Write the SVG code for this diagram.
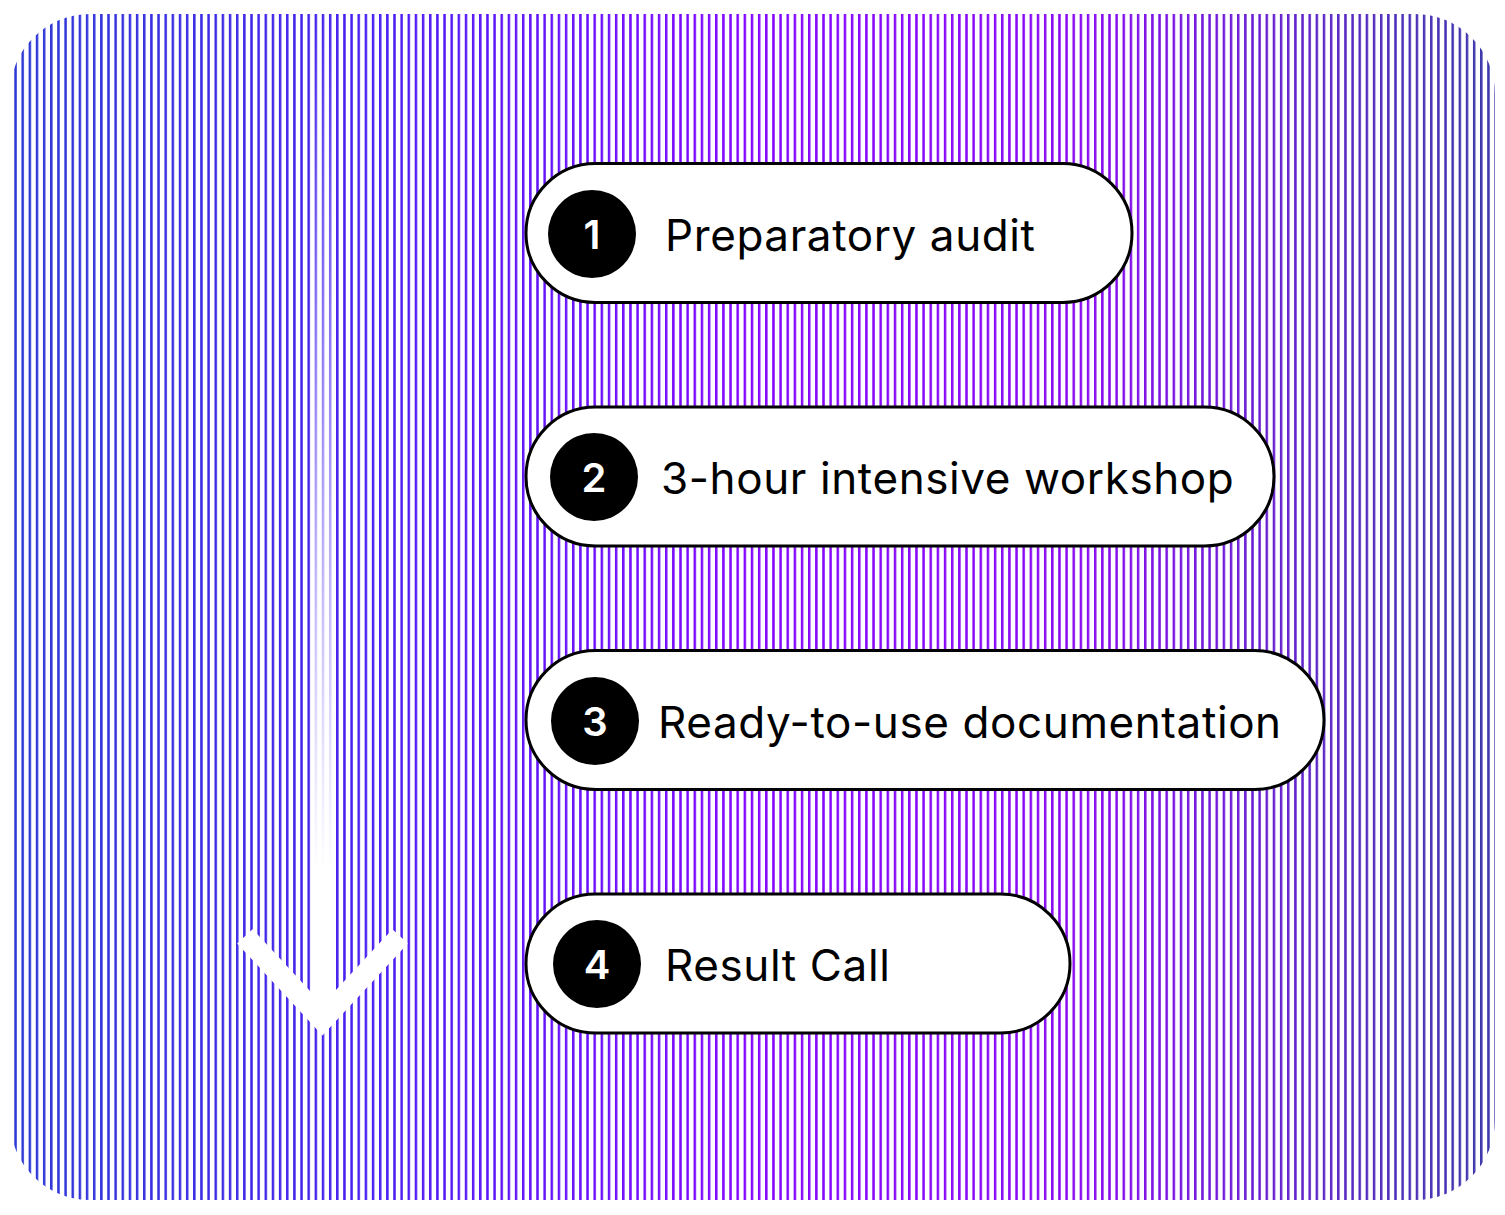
<svg xmlns="http://www.w3.org/2000/svg" width="1505" height="1215" viewBox="0 0 1505 1215">
  <defs>
    <linearGradient id="hue" x1="0" y1="0" x2="1505" y2="0" gradientUnits="userSpaceOnUse">
      <stop offset="0" stop-color="#2c3bd4"/>
      <stop offset="0.25" stop-color="#4a1ff2"/>
      <stop offset="0.5" stop-color="#8406ff"/>
      <stop offset="0.72" stop-color="#8a0cf0"/>
      <stop offset="1" stop-color="#3a3aa8"/>
    </linearGradient>
    <linearGradient id="fade" x1="0" y1="0" x2="0" y2="1">
      <stop offset="0" stop-color="#fff" stop-opacity="0"/>
      <stop offset="0.85" stop-color="#fff" stop-opacity="1"/>
      <stop offset="1" stop-color="#fff" stop-opacity="1"/>
    </linearGradient>
    <clipPath id="card">
      <rect x="10" y="14" width="1485" height="1186" rx="80" ry="80"/>
    </clipPath>
    <pattern id="stripesW" x="0" y="0" width="7.15" height="20" patternUnits="userSpaceOnUse">
      <rect x="0" y="0" width="2.5" height="20" fill="#fff"/>
    </pattern>
    <mask id="m">
      <rect x="0" y="0" width="1505" height="1215" fill="#000"/>
      <rect x="0" y="0" width="1505" height="1215" fill="url(#stripesW)"/>
    </mask>
  </defs>
  <style>
    .pill { fill: #fff; stroke: #000; stroke-width: 3; }
    .dot { fill: #000; }
    .num { font-family: Inter, "Liberation Sans", sans-serif; font-size: 40px; font-weight: 600; fill: #fff; text-anchor: middle; }
    .label { font-family: Inter, "Liberation Sans", sans-serif; font-size: 44px; letter-spacing: 0.6px; fill: #000; }
  </style>
  <rect x="0" y="0" width="1505" height="1215" fill="#fff"/>
  <g id="background" clip-path="url(#card)">
    <rect x="0" y="0" width="1505" height="1215" fill="url(#hue)" mask="url(#m)"/>
  </g>
  <g id="connectors">
    <rect x="313" y="20" width="19" height="1000" fill="url(#fade)"/>
    <polyline points="252,944 322.5,1020 393,944" fill="none" stroke="#fff" stroke-width="21" stroke-linecap="square"/>
  </g>
  <g id="step1">
    <rect class="pill" x="526" y="163.5" width="606" height="139" rx="69.5"/>
    <circle class="dot" cx="592" cy="234" r="44"/>
    <text class="num" x="592" y="248.5">1</text>
    <text class="label" x="665" y="251">Preparatory audit</text>
  </g>
  <g id="step2">
    <rect class="pill" x="526" y="407" width="748" height="139" rx="69.5"/>
    <circle class="dot" cx="594" cy="477" r="44"/>
    <text class="num" x="594" y="491.5">2</text>
    <text class="label" x="661" y="494">3-hour intensive workshop</text>
  </g>
  <g id="step3">
    <rect class="pill" x="526" y="650.5" width="798" height="139" rx="69.5"/>
    <circle class="dot" cx="595" cy="721" r="44"/>
    <text class="num" x="595" y="735.5">3</text>
    <text class="label" x="658" y="738">Ready-to-use documentation</text>
  </g>
  <g id="step4">
    <rect class="pill" x="526" y="894" width="544" height="139" rx="69.5"/>
    <circle class="dot" cx="597" cy="964" r="44"/>
    <text class="num" x="597" y="978.5">4</text>
    <text class="label" x="665" y="981">Result Call</text>
  </g>
</svg>
